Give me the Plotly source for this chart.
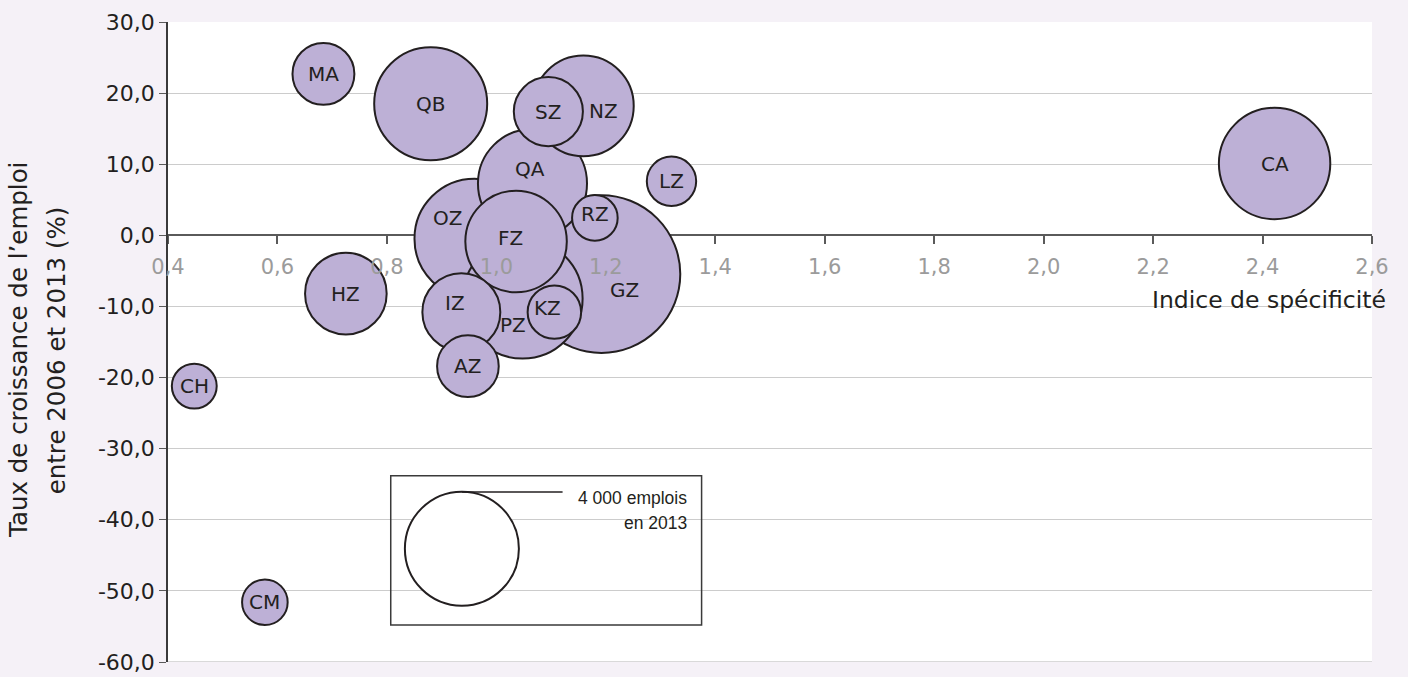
import plotly.graph_objects as go

# ---- data ----
codes = ["MA", "QB", "NZ", "SZ", "QA", "LZ", "RZ", "OZ", "FZ", "GZ",
         "PZ", "KZ", "IZ", "AZ", "HZ", "CH", "CM", "CA"]
indice = [0.684, 0.880, 1.159, 1.095, 1.066, 1.320, 1.180, 0.960, 1.036, 1.192,
          1.048, 1.106, 0.936, 0.948, 0.725, 0.448, 0.577, 2.422]
croissance = [22.7, 18.5, 18.2, 17.4, 7.3, 7.6, 2.45, -0.48, -0.87, -5.45,
              -8.9, -10.8, -10.8, -18.4, -8.2, -21.2, -51.6, 10.1]
emplois = [1180, 3930, 3120, 1470, 3660, 750, 640, 4430, 3170, 7650,
           4430, 880, 1870, 1170, 2050, 620, 640, 3820]

x_ticks = [0.4, 0.6, 0.8, 1.0, 1.2, 1.4, 1.6, 1.8, 2.0, 2.2, 2.4, 2.6]
x_ticktext = ["0,4", "0,6", "0,8", "1,0", "1,2", "1,4", "1,6", "1,8", "2,0", "2,2", "2,4", "2,6"]
y_ticks = [30, 20, 10, 0, -10, -20, -30, -40, -50, -60]
y_ticktext = ["30,0", "20,0", "10,0", "0,0", "-10,0", "-20,0", "-30,0", "-40,0", "-50,0", "-60,0"]

ref_emplois = 4000
ref_label = ["4 000 emplois", "en 2013"]
x_title = "Indice de spécificité"
y_title = ["Taux de croissance de l’emploi", "entre 2006 et 2013 (%)"]

# label offsets (pixels) to mimic manual label placement
label_shift = {"NZ": (20, -5), "QA": (-2, 14), "OZ": (-27, 21), "FZ": (-6, 4),
               "GZ": (23, -16), "PZ": (-10, -26), "KZ": (-7, 4), "IZ": (-6, 9),
               "RZ": (0, 4)}

FONT = "DejaVu Sans"
FILL = "#bdb0d6"
EDGE = "#231f20"
REF_R_PX = 57
sizeref = ref_emplois / (2 * REF_R_PX ** 2)

# draw larger bubbles first
order = sorted(range(len(codes)), key=lambda i: -emplois[i])

fig = go.Figure()
fig.add_trace(go.Scatter(
    x=[indice[i] for i in order],
    y=[croissance[i] for i in order],
    mode="markers",
    marker=dict(size=[emplois[i] for i in order], sizemode="area", sizeref=sizeref,
                color=FILL, opacity=1, line=dict(color=EDGE, width=2)),
    hoverinfo="text", text=[codes[i] for i in order],
    showlegend=False,
))

# size reference bubble
ref_x, ref_y = 0.937, -44.07
fig.add_trace(go.Scatter(
    x=[ref_x], y=[ref_y], mode="markers",
    marker=dict(size=[ref_emplois], sizemode="area", sizeref=sizeref, opacity=1,
                color="white", line=dict(color=EDGE, width=2)),
    hoverinfo="skip", showlegend=False,
))

# invisible trace on the second x axis (tick labels drawn above the bubbles)
fig.add_trace(go.Scatter(x=[x_ticks[0]], y=[y_ticks[-1]], xaxis="x2", mode="markers",
                         marker=dict(opacity=0), hoverinfo="skip", showlegend=False))

for c, xv, yv in zip(codes, indice, croissance):
    dx, dy = label_shift.get(c, (0, 0))
    fig.add_annotation(x=xv, y=yv, text=c, showarrow=False, xshift=dx, yshift=dy,
                       font=dict(family=FONT, size=20, color=EDGE))

# legend box
fig.add_shape(type="rect", x0=0.807, x1=1.375, y0=-54.8, y1=-33.8,
              line=dict(color="#3a3a3a", width=1.5), fillcolor="rgba(0,0,0,0)", layer="above")
fig.add_shape(type="line", x0=ref_x, x1=1.121, y0=-36.1, y1=-36.1,
              line=dict(color=EDGE, width=1.5), layer="above")
fig.add_annotation(x=1.352, y=-36.9, text=ref_label[0], showarrow=False, xanchor="right",
                   font=dict(family="Liberation Sans", size=17.5, color=EDGE))
fig.add_annotation(x=1.352, y=-40.4, text=ref_label[1], showarrow=False, xanchor="right",
                   font=dict(family="Liberation Sans", size=17.5, color=EDGE))

# bottom border line (gridline at the range edge)
fig.add_shape(type="line", xref="paper", yref="y", x0=0, x1=1, y0=y_ticks[-1], y1=y_ticks[-1],
              line=dict(color="#cccccc", width=1.5), layer="below")

# axis titles
fig.add_annotation(xref="paper", yref="paper", x=1.013, y=0.566, xanchor="right", yanchor="middle",
                   text=x_title, showarrow=False,
                   font=dict(family=FONT, size=23.5, color=EDGE))
fig.add_annotation(xref="paper", yref="paper", x=-0.124, y=0.487, xanchor="center", yanchor="middle",
                   text=y_title[0], textangle=-90,
                   showarrow=False, font=dict(family=FONT, size=24.5, color=EDGE))
fig.add_annotation(xref="paper", yref="paper", x=-0.093, y=0.487, xanchor="center", yanchor="middle",
                   text=y_title[1], textangle=-90,
                   showarrow=False, font=dict(family=FONT, size=24.5, color=EDGE))

xpos = 60 / 90
fig.update_layout(
    width=1408, height=677,
    margin=dict(l=168, r=36, t=22, b=15, autoexpand=False),
    paper_bgcolor="#f5f1f7", plot_bgcolor="white",
    font=dict(family=FONT, color=EDGE),
    xaxis=dict(range=[0.4, 2.6], tickvals=x_ticks, ticktext=[""] * len(x_ticks),
               anchor="free", position=xpos, side="bottom", layer="below traces",
               automargin=False,
               showgrid=False, zeroline=False, showline=True, linecolor="#5a5a5a", linewidth=1.5,
               ticks="outside", ticklen=8, tickcolor="#5a5a5a", tickwidth=1.5),
    xaxis2=dict(range=[0.4, 2.6], tickvals=x_ticks, ticktext=x_ticktext, overlaying="x",
                anchor="free", position=xpos, side="bottom", layer="above traces",
                automargin=False,
                showgrid=False, zeroline=False, showline=False,
                ticks="outside", ticklen=8, tickcolor="rgba(0,0,0,0)", ticklabelstandoff=4,
                tickfont=dict(family=FONT, size=21, color="#9b9b9b")),
    yaxis=dict(range=[-60, 30], tickvals=y_ticks, ticktext=y_ticktext, automargin=False,
               showgrid=True, gridcolor="#cccccc", gridwidth=1, zeroline=False,
               showline=True, linecolor="#3a3a3a", linewidth=1.5,
               ticks="outside", ticklen=7, tickcolor="#5a5a5a", ticklabeloverflow="allow",
               tickfont=dict(family=FONT, size=22, color=EDGE)),
)

fig.write_html("out.html", config={"displayModeBar": False},
               post_script="document.body.style.margin='0';")
